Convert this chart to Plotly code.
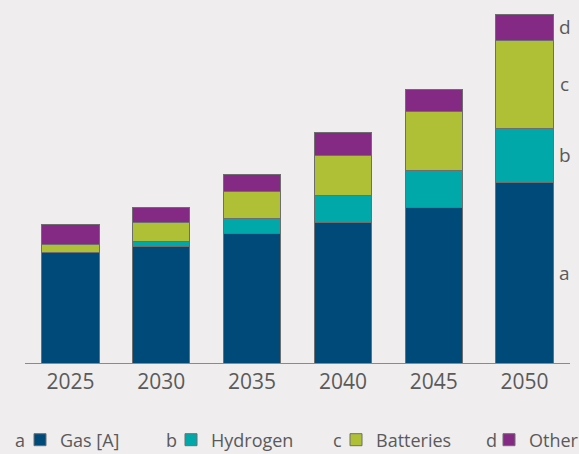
import plotly.graph_objects as go

years = ["2025", "2030", "2035", "2040", "2045", "2050"]
gas = [111, 117, 130, 141, 156, 181]
hydrogen = [0, 5, 15, 27, 37, 54]
batteries = [8, 19, 27, 40, 59, 88]
other = [20, 15, 17, 23, 22, 26]

names = ["Gas [A]", "Hydrogen", "Batteries", "Other"]
letters = ["a", "b", "c", "d"]
colors = ["#004a7a", "#00a8a9", "#b0c036", "#842a84"]
series = [gas, hydrogen, batteries, other]

BG = "#efedee"
TXT = "#5a5a5a"
FONT = "Open Sans"
W, H = 579, 454

# pixel positions of legend blocks (left edge) and their letters
leg_px = [20, 171, 336, 489]
let_px = [20, 171, 337, 491]
legend_ids = ["legend", "legend2", "legend3", "legend4"]
LEG_ROW = 440

fig = go.Figure()
for nm, col, vals, lid in zip(names, colors, series, legend_ids):
    fig.add_trace(go.Bar(
        x=years, y=vals, name=nm, legend=lid,
        marker=dict(color=col, line=dict(color="#6e6e6e", width=1)),
    ))

# segment labels on the right of the last bar
cum = 0
last = len(years) - 1
for let, vals in zip(letters, series):
    mid = cum + vals[last] / 2
    cum += vals[last]
    fig.add_annotation(x=last, y=mid, text=let, showarrow=False,
                       xshift=40, font=dict(size=19, color=TXT, family=FONT))

for let, px in zip(letters, let_px):
    fig.add_annotation(xref="paper", yref="paper", x=(px - 25) / 545,
                       y=-(LEG_ROW - 363) / 353,
                       text=let, showarrow=False, xanchor="center", yanchor="middle",
                       font=dict(size=18, color=TXT, family=FONT))

legend_layout = {}
for lid, px in zip(legend_ids, leg_px):
    legend_layout[lid] = dict(
        orientation="h", xref="container", yref="container",
        x=px / W, xanchor="left",
        y=(H - LEG_ROW) / H, yanchor="middle",
        font=dict(size=18, color=TXT, family=FONT),
        bgcolor="rgba(0,0,0,0)")

fig.update_layout(
    barmode="stack",
    bargap=0.37,
    width=W, height=H,
    margin=dict(l=25, r=9, t=10, b=91, autoexpand=False),
    paper_bgcolor=BG, plot_bgcolor=BG,
    font=dict(family=FONT, color=TXT, size=18),
    showlegend=True,
    xaxis=dict(type="category", range=[-0.5, 5.5], showline=True,
               linecolor="#8a8a8a", linewidth=1,
               ticks="", showgrid=False, tickfont=dict(size=21, color=TXT),
               ticklabelstandoff=0),
    yaxis=dict(range=[0, 353], visible=False, showgrid=False, zeroline=False),
    **legend_layout,
)

fig.write_html("out.html", config={"displayModeBar": False},
               post_script="document.body.style.margin='0';document.body.style.background='%s';" % BG)
